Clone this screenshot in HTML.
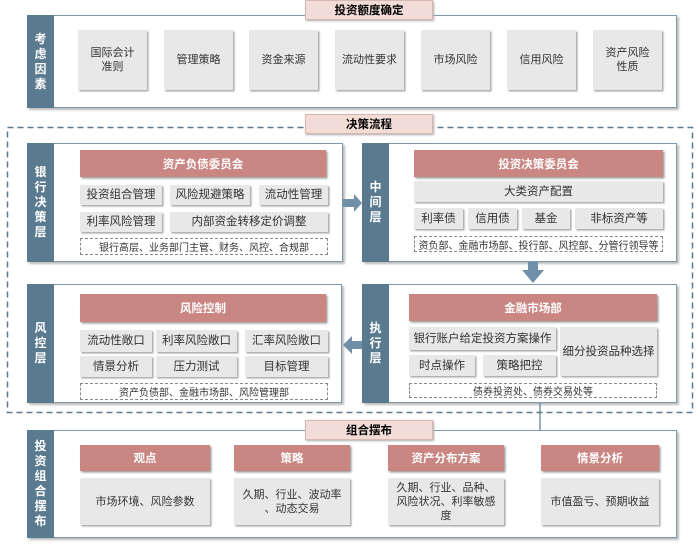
<!DOCTYPE html>
<html><head><meta charset="utf-8"><style>
body{margin:0;width:700px;height:547px;background:#fff;position:relative;font-family:"Liberation Sans","Noto Sans CJK SC",sans-serif;overflow:hidden}
div{position:absolute;box-sizing:border-box}
.frame{border:1.5px solid #7f98aa;background:#fff;box-shadow:2px 2px 2px #bbb}
.side{background:#5a7a90;color:#fff;font-weight:bold;font-size:12px;display:flex;align-items:center;justify-content:center;text-align:center;line-height:15px;width:27px}
.tag{background:#f2dcd8;border:1px solid #d9b8b2;font-weight:bold;font-size:11.5px;display:flex;align-items:center;justify-content:center;box-shadow:1px 1px 2px #aaa}
.g{background:#e8e8e8;color:#333;font-size:11px;display:flex;align-items:center;justify-content:center;text-align:center;line-height:14px;box-shadow:1.5px 1.5px 1.5px #aaa}
.h{background:#c98682;color:#fff;font-weight:bold;font-size:11.5px;display:flex;align-items:center;justify-content:center;box-shadow:1.5px 1.5px 2px #999}
.d{border:1px dashed #888;font-size:10px;color:#333;display:flex;align-items:center;justify-content:center;background:#fff}
</style></head><body>
<!-- top -->
<div class="frame" style="left:27px;top:15px;width:650px;height:93px"></div>
<div class="side" style="left:27px;top:15px;height:93px">考<br>虑<br>因<br>素</div>
<div class="tag" style="left:305px;top:0;width:128px;height:20px">投资额度确定</div>
<div class="g" style="left:78px;top:30px;width:69px;height:60px">国际会计<br>准则</div>
<div class="g" style="left:164px;top:30px;width:69px;height:60px">管理策略</div>
<div class="g" style="left:249px;top:30px;width:69px;height:60px">资金来源</div>
<div class="g" style="left:335px;top:30px;width:69px;height:60px">流动性要求</div>
<div class="g" style="left:421px;top:30px;width:69px;height:60px">市场风险</div>
<div class="g" style="left:507px;top:30px;width:69px;height:60px">信用风险</div>
<div class="g" style="left:593px;top:30px;width:69px;height:60px">资产风险<br>性质</div>
<!-- dashed -->
<svg style="position:absolute;left:0;top:0" width="700" height="547">
<rect x="7.5" y="127.5" width="685" height="285" fill="none" stroke="#5a7a90" stroke-width="1.5" stroke-dasharray="6,4"/>
</svg>
<div class="tag" style="left:305px;top:114px;width:128px;height:20px">决策流程</div>
<!-- bank -->
<div class="frame" style="left:27px;top:143px;width:316px;height:119px"></div>
<div class="side" style="left:27px;top:143px;height:119px">银<br>行<br>决<br>策<br>层</div>
<div class="h" style="left:80px;top:150px;width:246px;height:27px">资产负债委员会</div>
<div class="g" style="left:80px;top:185px;width:82px;height:20px;font-size:11.5px">投资组合管理</div>
<div class="g" style="left:170px;top:185px;width:80px;height:20px;font-size:11.5px">风险规避策略</div>
<div class="g" style="left:259px;top:185px;width:69px;height:20px;font-size:11.5px">流动性管理</div>
<div class="g" style="left:80px;top:212px;width:82px;height:20px;font-size:11.5px">利率风险管理</div>
<div class="g" style="left:170px;top:212px;width:158px;height:20px;font-size:11.5px">内部资金转移定价调整</div>
<div class="d" style="left:80px;top:238px;width:248px;height:17px">银行高层、业务部门主管、财务、风控、合规部</div>
<!-- risk -->
<div class="frame" style="left:27px;top:284px;width:315px;height:119px"></div>
<div class="side" style="left:27px;top:284px;height:119px">风<br>控<br>层</div>
<div class="h" style="left:80px;top:294px;width:246px;height:28px">风险控制</div>
<div class="g" style="left:80px;top:330px;width:72px;height:22px;font-size:11.5px">流动性敞口</div>
<div class="g" style="left:156px;top:330px;width:81px;height:22px;font-size:11.5px">利率风险敞口</div>
<div class="g" style="left:245px;top:330px;width:83px;height:22px;font-size:11.5px">汇率风险敞口</div>
<div class="g" style="left:80px;top:356px;width:72px;height:21px;font-size:11.5px">情景分析</div>
<div class="g" style="left:156px;top:356px;width:81px;height:21px;font-size:11.5px">压力测试</div>
<div class="g" style="left:245px;top:356px;width:83px;height:21px;font-size:11.5px">目标管理</div>
<div class="d" style="left:80px;top:383px;width:248px;height:17px">资产负债部、金融市场部、风险管理部</div>
<!-- mid -->
<div class="frame" style="left:362px;top:143px;width:315px;height:119px"></div>
<div class="side" style="left:362px;top:143px;height:119px">中<br>间<br>层</div>
<div class="h" style="left:414px;top:150px;width:249px;height:27px">投资决策委员会</div>
<div class="g" style="left:414px;top:181px;width:249px;height:21px;font-size:11.5px">大类资产配置</div>
<div class="g" style="left:414px;top:208px;width:49px;height:21px;font-size:11.5px">利率债</div>
<div class="g" style="left:468px;top:208px;width:49px;height:21px;font-size:11.5px">信用债</div>
<div class="g" style="left:522px;top:208px;width:48px;height:21px;font-size:11.5px">基金</div>
<div class="g" style="left:575px;top:208px;width:88px;height:21px;font-size:11.5px">非标资产等</div>
<div class="d" style="left:414px;top:236px;width:249px;height:16px">资负部、金融市场部、投行部、风控部、分管行领导等</div>
<!-- exec -->
<div class="frame" style="left:362px;top:284px;width:315px;height:119px"></div>
<div class="side" style="left:362px;top:284px;height:119px">执<br>行<br>层</div>
<div class="h" style="left:409px;top:294px;width:248px;height:27px">金融市场部</div>
<div class="g" style="left:409px;top:327px;width:147px;height:23px;font-size:11.5px">银行账户给定投资方案操作</div>
<div class="g" style="left:409px;top:355px;width:66px;height:21px;font-size:11.5px">时点操作</div>
<div class="g" style="left:483px;top:355px;width:73px;height:21px;font-size:11.5px">策略把控</div>
<div class="g" style="left:560px;top:327px;width:97px;height:49px;font-size:11.5px">细分投资品种选择</div>
<div class="d" style="left:409px;top:383px;width:248px;height:15px">债券投资处、债券交易处等</div>
<!-- arrows -->
<svg style="position:absolute;left:0;top:0" width="700" height="547">
<polygon points="343,199 354,199 354,194 362,203 354,212 354,207 343,207" fill="#6f90a8"/>
<polygon points="528,262 538,262 538,270 544,270 533,283 522,270 528,270" fill="#6f90a8"/>
<polygon points="362,341 352,341 352,336 343,345 352,354 352,349 362,349" fill="#6f90a8"/>
<line x1="540" y1="403" x2="540" y2="430" stroke="#5a7a90" stroke-width="1.2"/>
</svg>
<!-- bottom -->
<div class="frame" style="left:27px;top:430px;width:650px;height:108px"></div>
<div class="side" style="left:27px;top:430px;height:108px">投<br>资<br>组<br>合<br>摆<br>布</div>
<div class="tag" style="left:305px;top:420px;width:128px;height:20px">组合摆布</div>
<div class="h" style="left:80px;top:445px;width:130px;height:26px">观点</div>
<div class="h" style="left:234px;top:445px;width:116px;height:26px">策略</div>
<div class="h" style="left:388px;top:445px;width:116px;height:26px">资产分布方案</div>
<div class="h" style="left:541px;top:445px;width:118px;height:26px">情景分析</div>
<div class="g" style="left:80px;top:478px;width:130px;height:47px">市场环境、风险参数</div>
<div class="g" style="left:234px;top:478px;width:116px;height:47px">久期、行业、波动率<br>、动态交易</div>
<div class="g" style="left:388px;top:478px;width:116px;height:47px">久期、行业、品种、<br>风险状况、利率敏感<br>度</div>
<div class="g" style="left:541px;top:478px;width:118px;height:47px">市值盈亏、预期收益</div>
</body></html>
